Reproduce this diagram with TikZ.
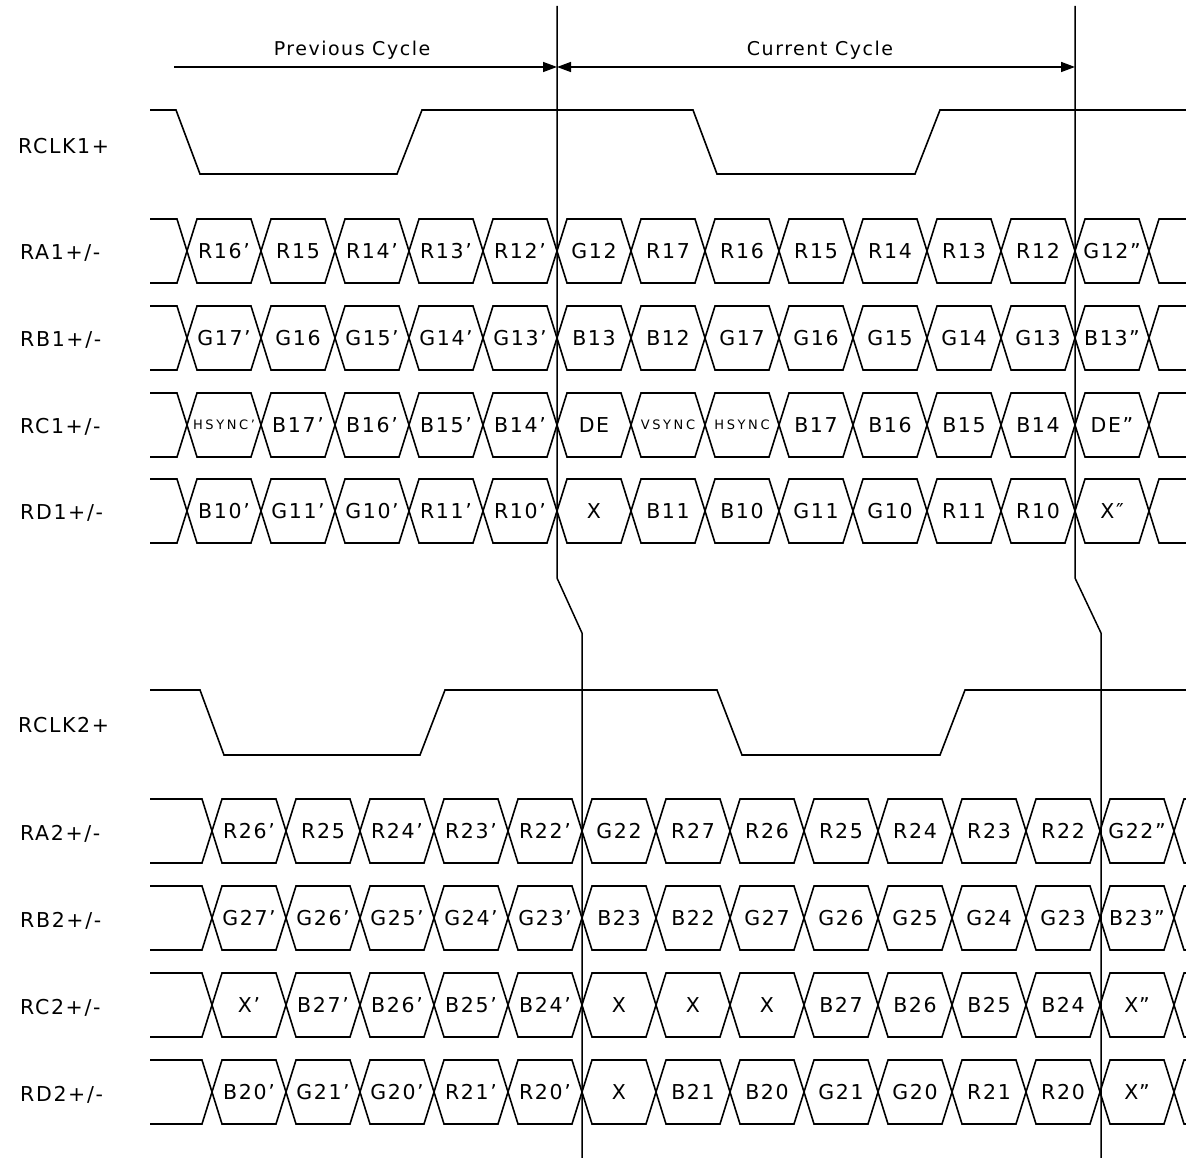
\documentclass[tikz,border=0pt]{standalone}
\usepackage{fontspec}
\newfontfamily\sigfont[LetterSpace=8]{DejaVu Sans}
\newfontfamily\syncfont[LetterSpace=20]{DejaVu Sans}
\usetikzlibrary{arrows.meta}

\newcommand\snc[1]{{\syncfont\fontsize{13}{13}\selectfont #1}}

\tikzset{
    sig/.style={line width=1.6pt, line join=miter, miter limit=2},
    marker/.style={line width=1.5pt, >={Triangle[length=14pt, width=10pt]}},
    lbl/.style={font=\sigfont\fontsize{20.5}{20.5}\selectfont, inner sep=0pt},
    cyc/.style={font=\sigfont\fontsize{19}{19}\selectfont, inner sep=0pt},
    siglabel/.style={lbl, anchor=west},
}

\begin{document}
\begin{tikzpicture}[x=1pt, y=-1pt]
    \useasboundingbox (0,0) rectangle (1186,1158);

    % #1 name, #2 first crossing, #3 row centre, #4 cells
    \def\busrow#1#2#3#4{%
        \draw[sig] (150,#3-32) -- (#2-10,#3-32) -- (#2,#3) -- (#2-10,#3+32) -- (150,#3+32);
        \foreach \txt [count=\i from 0] in {#4} {
            \draw[sig] (#2+74*\i,#3) -- ++(10,-32) -- ++(54,0) -- ++(10,32) -- ++(-10,32) -- ++(-54,0) -- cycle;
            \node[lbl] (#1-\i) at (#2+74*\i+37,#3) {\txt};
        }
        \draw[sig] (1186,#3-32) -- (#2+74*13+10,#3-32) -- (#2+74*13,#3) -- (#2+74*13+10,#3+32) -- (1186,#3+32);
    }

    % cycle markers
    \coordinate (prevstart) at (174,67);
    \coordinate (cur1) at (557,6);
    \coordinate (next1) at (1075,6);
    \draw[marker] (cur1) -- (557,578) -- (582,633) -- (582,1158);
    \draw[marker] (next1) -- (1075,578) -- (1101,633) -- (1101,1158);
    \draw[marker, ->] (prevstart) -- (cur1 |- prevstart);
    \draw[marker, <->] (cur1 |- prevstart) -- (next1 |- prevstart);
    \node[cyc] (prev) at (352,50) {Previous Cycle};
    \node[cyc] (curr) at (820,50) {Current Cycle};

    % link 1
    \node[siglabel] (rclk1) at (18,146) {RCLK1+};
    \draw[sig] (150,110) -- (176,110) -- (200,174) -- (397,174) -- (422,110) -- (693,110) -- (717,174) -- (915,174) -- (940,110) -- (1186,110);

    \node[siglabel] (ra1) at (20,253) {RA1+/-};
    \busrow{ra1c}{187}{251}{R16’,R15,R14’,R13’,R12’,G12,R17,R16,R15,R14,R13,R12,G12”}
    \node[siglabel] (rb1) at (20,340) {RB1+/-};
    \busrow{rb1c}{187}{338}{G17’,G16,G15’,G14’,G13’,B13,B12,G17,G16,G15,G14,G13,B13”}
    \node[siglabel] (rc1) at (20,427) {RC1+/-};
    \busrow{rc1c}{187}{425}{\snc{HSYNC’},B17’,B16’,B15’,B14’,DE,\snc{VSYNC},\snc{HSYNC},B17,B16,B15,B14,DE”}
    \node[siglabel] (rd1) at (20,513) {RD1+/-};
    \busrow{rd1c}{187}{511}{B10’,G11’,G10’,R11’,R10’,X,B11,B10,G11,G10,R11,R10,X″}

    % link 2
    \node[siglabel] (rclk2) at (18,725) {RCLK2+};
    \draw[sig] (150,690) -- (200,690) -- (224,755) -- (420,755) -- (445,690) -- (717,690) -- (742,755) -- (940,755) -- (965,690) -- (1186,690);

    \node[siglabel] (ra2) at (20,834) {RA2+/-};
    \busrow{ra2c}{212}{831}{R26’,R25,R24’,R23’,R22’,G22,R27,R26,R25,R24,R23,R22,G22”}
    \node[siglabel] (rb2) at (20,921) {RB2+/-};
    \busrow{rb2c}{212}{918}{G27’,G26’,G25’,G24’,G23’,B23,B22,G27,G26,G25,G24,G23,B23”}
    \node[siglabel] (rc2) at (20,1008) {RC2+/-};
    \busrow{rc2c}{212}{1005}{X’,B27’,B26’,B25’,B24’,X,X,X,B27,B26,B25,B24,X”}
    \node[siglabel] (rd2) at (20,1095) {RD2+/-};
    \busrow{rd2c}{212}{1092}{B20’,G21’,G20’,R21’,R20’,X,B21,B20,G21,G20,R21,R20,X”}
\end{tikzpicture}
\end{document}
